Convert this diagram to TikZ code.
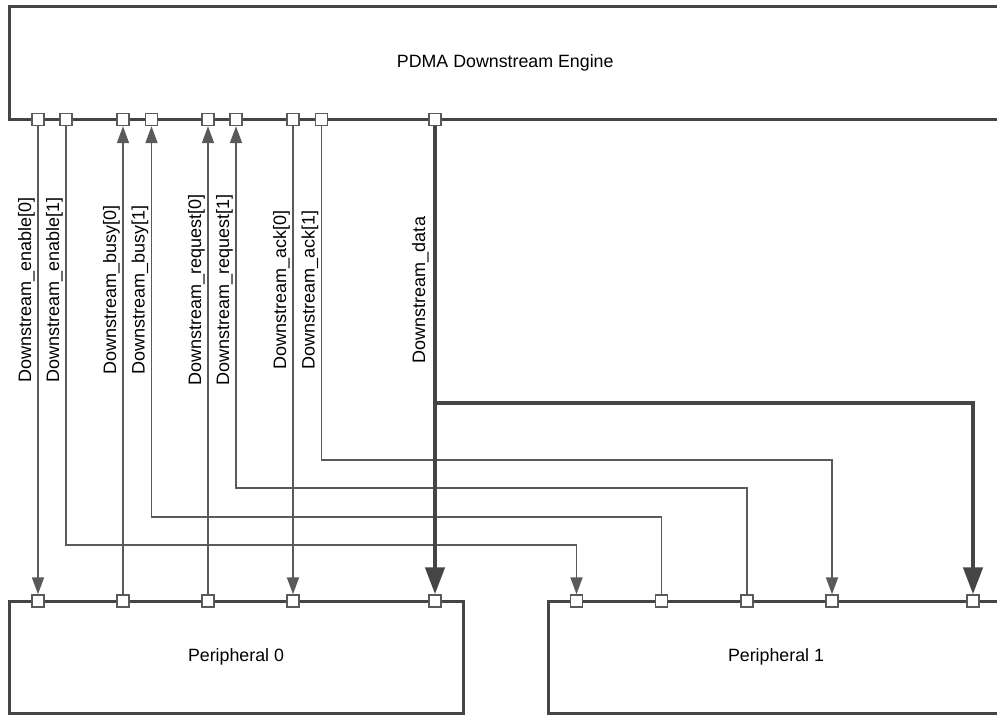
\documentclass[tikz,border=0pt]{standalone}
\usepackage{fontspec}
\setmainfont{Liberation Sans}
\usetikzlibrary{arrows.meta}
\definecolor{boxgray}{HTML}{454545}
\definecolor{wiregray}{HTML}{5A5A5A}

\begin{document}
\begin{tikzpicture}[x=1pt, y=-1pt,
  block/.style={draw=boxgray, line width=3pt, inner sep=0pt, font=\fontsize{17.8}{21}\selectfont},
  port/.style={draw=wiregray, fill=white, line width=1.4pt, minimum size=12pt, inner sep=0pt},
  wire/.style={draw=wiregray, line width=1.8pt},
  sigdown/.style={wire, -{Triangle[length=17pt, width=12pt]}},
  sigup/.style={wire, {Triangle[length=17pt, width=12pt]}-},
  bus/.style={draw=boxgray, line width=4.5pt, -{Triangle[length=27pt, width=19pt]}},
  siglabel/.style={rotate=90, anchor=south, inner sep=3pt, font=\fontsize{18}{21}\selectfont}]
  \useasboundingbox (0,0) rectangle (997,715);
  % blocks
  \node[block, minimum width=991.5pt, minimum height=113pt] (engine) at (505.25,63) {PDMA Downstream Engine};
  \node[block, minimum width=454pt, minimum height=112pt] (per0) at (236,657) {Peripheral 0};
  \node[block, minimum width=456pt, minimum height=112pt] (per1) at (776,657) {Peripheral 1};
  % ports of the engine
  \node[port] (e0) at (38,119.5) {};
  \node[port] (e1) at (66,119.5) {};
  \node[port] (b0) at (123,119.5) {};
  \node[port] (b1) at (151.5,119.5) {};
  \node[port] (r0) at (208,119.5) {};
  \node[port] (r1) at (236,119.5) {};
  \node[port] (a0) at (293,119.5) {};
  \node[port] (a1) at (321.5,119.5) {};
  \node[port] (d) at (435,119.5) {};
  % ports of peripheral 0
  \node[port] (pe) at (38,601) {};
  \node[port] (pb) at (123,601) {};
  \node[port] (pr) at (208,601) {};
  \node[port] (pa) at (293,601) {};
  \node[port] (pd) at (435,601) {};
  % ports of peripheral 1
  \node[port] (qe) at (576.5,601) {};
  \node[port] (qb) at (661.5,601) {};
  \node[port] (qr) at (747,601) {};
  \node[port] (qa) at (832,601) {};
  \node[port] (qd) at (973,601) {};
  % handshake wires
  \draw[sigdown] (e0) -- (pe);
  \draw[sigdown] (e1) -- (e1 |- 0,545) -| (qe);
  \draw[sigup] (b0) -- (pb);
  \draw[sigup] (b1) -- (b1 |- 0,517) -| (qb);
  \draw[sigup] (r0) -- (pr);
  \draw[sigup] (r1) -- (r1 |- 0,488) -| (qr);
  \draw[sigdown] (a0) -- (pa);
  \draw[sigdown] (a1) -- (a1 |- 0,460) -| (qa);
  % data bus
  \draw[bus] (d) -- (pd);
  \draw[bus] (d |- 0,403) -| (qd);
  % wire names
  \node[siglabel] (le0) at (38,290) {Downstream\_enable[0]};
  \node[siglabel] (le1) at (66,290) {Downstream\_enable[1]};
  \node[siglabel] (lb0) at (123,290) {Downstream\_busy[0]};
  \node[siglabel] (lb1) at (151.5,290) {Downstream\_busy[1]};
  \node[siglabel] (lr0) at (208,290) {Downstream\_request[0]};
  \node[siglabel] (lr1) at (236,290) {Downstream\_request[1]};
  \node[siglabel] (la0) at (293,290) {Downstream\_ack[0]};
  \node[siglabel] (la1) at (321.5,290) {Downstream\_ack[1]};
  \node[siglabel] (ld) at (432,290) {Downstream\_data};
\end{tikzpicture}
\end{document}
